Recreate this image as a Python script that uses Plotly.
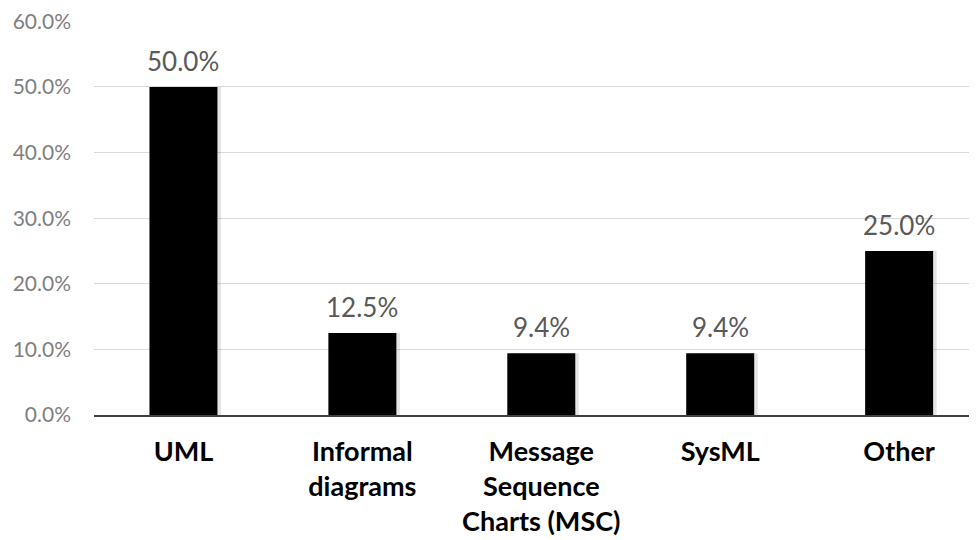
import plotly.graph_objects as go

categories = ["UML", "Informal<br>diagrams", "Message<br>Sequence<br>Charts (MSC)", "SysML", "Other"]
values = [0.500, 0.125, 0.094, 0.094, 0.250]
tick_vals = [0, 0.1, 0.2, 0.3, 0.4, 0.5, 0.6]
tick_text = ["0.0%", "10.0%", "20.0%", "30.0%", "40.0%", "50.0%", "60.0%"]

FONT = "Lato"
BW = 0.38
xs = list(range(len(categories)))

fig = go.Figure()
# soft shadow
fig.add_trace(go.Bar(x=xs, y=values, width=BW, offset=-BW / 2 + 0.02,
                     marker=dict(color="rgba(0,0,0,0.10)", line=dict(width=0)),
                     hoverinfo="skip", showlegend=False))
fig.add_trace(go.Bar(x=xs, y=values, width=BW,
                     marker=dict(color="#000000", line=dict(width=0)),
                     showlegend=False))

for x, v in zip(xs, values):
    fig.add_annotation(x=x, y=v, text=f"{v*100:.1f}%", showarrow=False,
                       yanchor="bottom", yshift=8,
                       font=dict(family=FONT, size=26, color="#595959"))

fig.update_layout(
    width=977, height=540,
    margin=dict(l=86, r=0, t=13, b=133),
    paper_bgcolor="white", plot_bgcolor="white",
    barmode="overlay",
    xaxis=dict(range=[-0.5, 4.48], tickvals=xs, ticktext=[f"<b>{c}</b>" for c in categories],
               tickfont=dict(family=FONT, size=27, color="#000000"),
               showline=True, linecolor="#404040", linewidth=1.5, automargin=False,
               ticks="", showgrid=False, zeroline=False, ticklabelstandoff=12),
    yaxis=dict(range=[0, 0.6005], tickvals=tick_vals, ticktext=tick_text,
               tickfont=dict(family=FONT, size=21, color="#7f7f7f"), automargin=False,
               ticklabeloverflow="allow",
               showgrid=True, gridcolor="#d9d9d9", gridwidth=1,
               zeroline=False, showline=False, ticks="", ticklabelstandoff=22),
)

fig.write_html("out.html")
